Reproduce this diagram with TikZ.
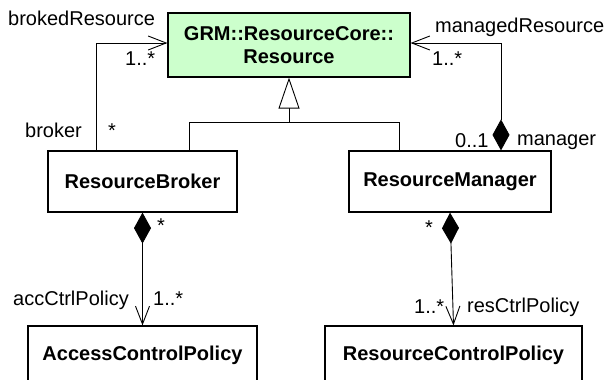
\documentclass[tikz,border=0pt]{standalone}
\usepackage{fontspec}
\setmainfont{Liberation Sans}
\usetikzlibrary{arrows.meta}
\definecolor{coregreen}{RGB}{204,255,204}

\begin{document}
\begin{tikzpicture}[x=1pt, y=-1pt,
            cls/.style={draw, line width=1.2pt, inner sep=0pt, font=\fontsize{20}{23}\selectfont\bfseries},
            lbl/.style={anchor=base west, inner sep=0pt, font=\fontsize{20}{23}\selectfont},
            assoc/.style={line width=0.9pt, -{Straight Barb[length=18pt,width=14pt]}},
            comp/.style={line width=0.9pt, {Diamond[length=31pt,width=17pt]}-{Straight Barb[length=18pt,width=14pt]}},
            inherit/.style={line width=0.9pt, -{Triangle[open,fill=white,length=31pt,width=21pt]}}]
            % 画布范围
            \useasboundingbox (0,0) rectangle (608,380);
            \clip (0,0) rectangle (608,380);
            
            % 类
            \node[cls, fill=coregreen, minimum width=242pt, minimum height=64pt, align=center] (core) at (289,45) {GRM::ResourceCore::\\Resource};
            \node[cls, minimum width=189pt, minimum height=61pt] (broker) at (142.5,181.5) {ResourceBroker};
            \node[cls, minimum width=202pt, minimum height=61pt] (manager) at (450,181.5) {ResourceManager};
            \node[cls, minimum width=229pt, minimum height=58pt] (acp) at (142.5,355) {AccessControlPolicy};
            \node[cls, minimum width=257pt, minimum height=58pt] (rcp) at (453.5,355) {ResourceControlPolicy};
            
            % 泛化
            \coordinate (genjoin) at ([yshift=-45pt]core.south);
            \draw[line width=0.9pt] ([xshift=46.5pt]broker.north) |- (genjoin) -| ([xshift=-51pt]manager.north);
            \draw[inherit] (genjoin) -- (core.south);
            
            % 关联 brokedResource
            \draw[assoc] ([xshift=-46.5pt]broker.north) |- ([yshift=2pt]core.west);
            \node[lbl] (brokedLbl) at (8,25) {brokedResource};
            \node[lbl] (brokedMult) at (125,65) {1..*};
            \node[lbl] (brokerLbl) at (25,137) {broker};
            \node[lbl] (brokerMult) at (108,137) {*};
            
            % 组合 managedResource
            \draw[comp] ([xshift=51pt]manager.north) |- ([yshift=2pt]core.east);
            \node[lbl] (managedLbl) at (435,32) {managedResource};
            \node[lbl] (managedMult) at (432,65) {1..*};
            \node[lbl] (managerMult) at (455,147) {0..1};
            \node[lbl] (managerLbl) at (517,145) {manager};
            
            % 组合 accCtrlPolicy
            \draw[comp] (broker.south) -- (acp.north);
            \node[lbl] (accMult) at (157,232) {*};
            \node[lbl] (accLbl) at (13,305) {accCtrlPolicy};
            \node[lbl] (accMultB) at (153,305) {1..*};
            
            % 组合 resCtrlPolicy
            \draw[comp] (manager.south) -- (rcp.north);
            \node[lbl] (resMult) at (425,234) {*};
            \node[lbl] (resMultB) at (414,313) {1..*};
            \node[lbl] (resLbl) at (467,312) {resCtrlPolicy};
        \end{tikzpicture}
\end{document}
